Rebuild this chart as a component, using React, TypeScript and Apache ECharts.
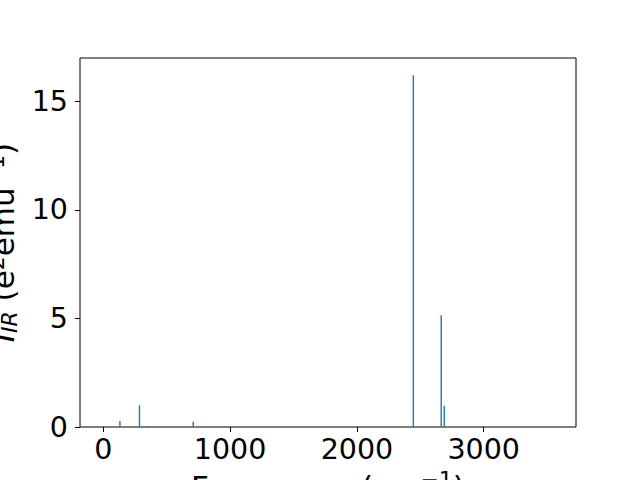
import React, { useEffect, useRef } from "react";
import * as echarts from "echarts";

const frequencies = [131, 285, 351, 709, 2445, 2665, 2689];
const intensities = [0.28, 1.0, 0.05, 0.24, 16.2, 5.15, 0.98];
const xTicks = [0, 1000, 2000, 3000];
const yTicks = [0, 5, 10, 15];

const FONT = "DejaVu Sans";

export default function App() {
  const ref = useRef<HTMLDivElement>(null);
  useEffect(() => {
    if (!ref.current) return;
    const chart = echarts.init(ref.current, undefined, { renderer: "svg" });
    const data = frequencies.map((f, i) => [f, intensities[i]]);
    chart.setOption({
      animation: false,
      textStyle: { fontFamily: FONT, color: "#000" },
      grid: {
        left: 80,
        right: 64,
        top: 58,
        bottom: 53,
        show: true,
        borderColor: "#000",
        borderWidth: 1,
        backgroundColor: "transparent",
        containLabel: false,
        outerBoundsMode: "none",
      },
      xAxis: {
        type: "value",
        min: -184,
        max: 3728,
        name: "Frequency (cm{s|−1})",
        nameLocation: "middle",
        nameGap: 41,
        nameTextStyle: {
          fontFamily: FONT,
          fontSize: 31,
          color: "#000",
          rich: {
            s: { fontSize: 22, fontFamily: FONT, color: "#000", padding: [0, 0, 14, 0] },
          },
        },
        axisLine: { show: false, onZero: false },
        splitLine: { show: false },
        axisTick: { show: true, length: 5, lineStyle: { color: "#000" }, customValues: xTicks },
        axisLabel: {
          fontSize: 28.5,
          color: "#000",
          margin: 8,
          fontFamily: FONT,
          customValues: xTicks,
          formatter: (v: number) => String(v),
        },
      },
      yAxis: {
        type: "value",
        min: 0,
        max: 17,
        name: "{a|I}{b|IR}{n| (e}{c|2}{n|emu}{c|−1}{n|)}",
        nameLocation: "middle",
        nameGap: 47,
        nameRotate: 90,
        nameTextStyle: {
          fontFamily: FONT,
          fontSize: 31,
          color: "#000",
          rich: {
            a: { fontSize: 31, fontFamily: FONT, fontStyle: "italic", color: "#000" },
            n: { fontSize: 31, fontFamily: FONT, color: "#000" },
            b: { fontSize: 22, fontFamily: FONT, fontStyle: "italic", color: "#000", padding: [13, 0, 0, 0] },
            c: { fontSize: 22, fontFamily: FONT, color: "#000", padding: [0, 0, 14, 0] },
          },
        },
        axisLine: { show: false, onZero: false },
        splitLine: { show: false },
        axisTick: { show: true, length: 5, lineStyle: { color: "#000" }, customValues: yTicks },
        axisLabel: {
          fontSize: 28.5,
          color: "#000",
          margin: 12,
          fontFamily: FONT,
          customValues: yTicks,
          formatter: (v: number) => String(v),
        },
      },
      series: [
        {
          type: "bar",
          data,
          barWidth: 1.4,
          itemStyle: { color: "#1f77b4" },
        },
      ],
    });
    return () => chart.dispose();
  }, []);
  return <div ref={ref} style={{ width: 640, height: 480, position: "absolute", left: 0, top: 0 }} />;
}
